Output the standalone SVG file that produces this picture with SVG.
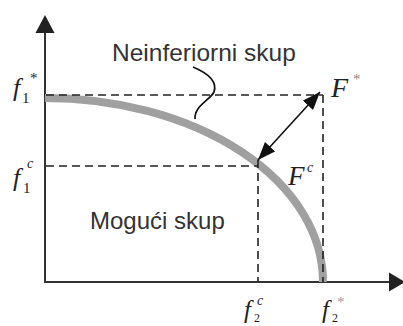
<svg xmlns="http://www.w3.org/2000/svg" width="403" height="326" viewBox="0 0 403 326">
<defs>
<style>
.axis{stroke:#333;stroke-width:2;fill:none}
.dash{stroke:#222;stroke-width:1.6;stroke-dasharray:8 5;fill:none}
.lbl{font-family:"Liberation Sans",Arial,sans-serif;font-size:24px;fill:#333}
.m{font-family:"Liberation Serif","Times New Roman",serif;font-style:italic;fill:#222}
.sub{font-family:"Liberation Serif","Times New Roman",serif;fill:#222}
</style>
<marker id="ah" viewBox="0 0 18 14" refX="18" refY="7" markerWidth="18" markerHeight="14" markerUnits="userSpaceOnUse" orient="auto-start-reverse">
<path d="M0,0 L18,7 L0,14 z" fill="#111"/>
</marker>
</defs>
<rect width="403" height="326" fill="#fff"/>
<g id="axes">
<line class="axis" x1="45" y1="283" x2="45" y2="30"/>
<path d="M45,15 L35.5,33 L54.5,33 z" fill="#222"/>
<line class="axis" x1="44" y1="282" x2="392" y2="282"/>
<path d="M405,282 L389,272.5 L389,291.5 z" fill="#222"/>
</g>
<g id="front">
<path d="M45,98 A278,184 0 0 1 323,282" fill="none" stroke="#a0a0a0" stroke-width="8"/>
</g>
<g id="connectors">
<line class="dash" x1="46" y1="95" x2="323" y2="95"/>
<line class="dash" x1="323" y1="95" x2="323" y2="282"/>
<line class="dash" x1="46" y1="166" x2="258" y2="166"/>
<line class="dash" x1="258" y1="160" x2="258" y2="282"/>
<line x1="320" y1="92" x2="258" y2="160" stroke="#111" stroke-width="1.6" marker-start="url(#ah)" marker-end="url(#ah)"/>
<path d="M193,67 C205,72 218,80 214,92 C210,100 194,106 195,119" fill="none" stroke="#111" stroke-width="1.7"/>
</g>
<g id="label-neinferiorni"><text class="lbl" x="112" y="61" style="font-size:24.5px">Neinferiorni skup</text></g>
<g id="label-moguci"><text class="lbl" x="90" y="229">Mogući skup</text></g>
<g id="f1star"><text class="m" x="13" y="96" font-size="26">f</text><text class="sub" x="22" y="103" font-size="15">1</text><text class="sub" x="30" y="83" font-size="15">*</text></g>
<g id="f1c"><text class="m" x="13" y="186" font-size="26">f</text><text class="sub" x="23" y="193" font-size="15">1</text><text class="m" x="27" y="168" font-size="14">c</text></g>
<g id="Fstar"><text class="m" x="331" y="97" font-size="28">F</text><text class="sub" x="353" y="84" font-size="15" style="fill:#888">*</text></g>
<g id="Fc"><text class="m" x="288" y="185" font-size="27">F</text><text class="m" x="307" y="172" font-size="14">c</text></g>
<g id="f2c"><text class="m" x="244" y="318" font-size="25">f</text><text class="sub" x="254" y="322" font-size="12">2</text><text class="m" x="257" y="305" font-size="14">c</text></g>
<g id="f2star"><text class="m" x="322" y="318" font-size="25">f</text><text class="sub" x="332" y="322" font-size="12">2</text><text class="sub" x="337" y="307" font-size="15" style="fill:#999">*</text></g>
</svg>
